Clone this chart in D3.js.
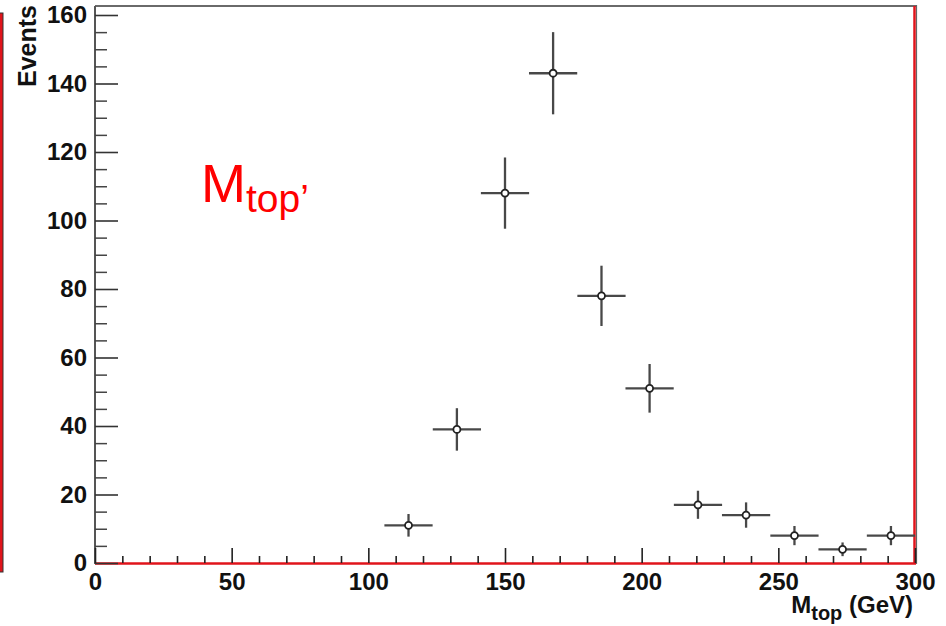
<!DOCTYPE html>
<html>
<head>
<meta charset="utf-8">
<script src="https://cdn.jsdelivr.net/npm/d3@7/dist/d3.min.js"></script>
<style>
  html, body { margin: 0; padding: 0; background: #fff; }
  svg { display: block; }
  .tick text { font-family: "Liberation Sans", Arial, Helvetica, sans-serif; font-weight: bold; }
</style>
</head>
<body>
<svg id="chart" width="946" height="626"></svg>
<script>
// Histogram of reconstructed top mass: 17 bins over 0–300 GeV
const binCenters = [114.7, 132.4, 150.0, 167.6, 185.3, 202.9, 220.6, 238.2, 255.9, 273.5, 291.2];
const binWidth = 300 / 17;
const events = [11, 39, 108, 143, 78, 51, 17, 14, 8, 4, 8];
const errors = [3.3, 6.2, 10.4, 12.0, 8.8, 7.1, 4.1, 3.7, 2.8, 2.0, 2.8];

const xMajorTicks = [0, 50, 100, 150, 200, 250, 300];
const xMinorTicks = [10, 20, 30, 40, 60, 70, 80, 90, 110, 120, 130, 140, 160, 170, 180, 190, 210, 220, 230, 240, 260, 270, 280, 290];
const yMajorTicks = [0, 20, 40, 60, 80, 100, 120, 140, 160];
const yMinorTicks = d3.range(5, 160, 5).filter(v => v % 20 !== 0);

const xTitle = { main: "M", sub: "top", rest: " (GeV)" };
const yTitle = "Events";
const note = { main: "M", sub: "top’" };

const svg = d3.select("#chart");
const font = '"Liberation Sans", Arial, Helvetica, sans-serif';

const x = d3.scaleLinear().domain([0, 300]).range([95, 915]);
const y = d3.scaleLinear().domain([0, 160]).range([563, 15]);

// neighbouring pad edge on the far left
svg.append("rect")
  .attr("x", -3).attr("y", 13).attr("width", 6).attr("height", 559)
  .attr("fill", "#e0141b").attr("stroke", "#333").attr("stroke-width", 1);

// frame: top in gray, right and bottom in red
svg.append("line")
  .attr("x1", x(0)).attr("x2", 917).attr("y1", 6).attr("y2", 6)
  .attr("stroke", "#6a6a6a").attr("stroke-width", 2);
svg.append("line")
  .attr("x1", 916.5).attr("x2", 916.5).attr("y1", 5).attr("y2", y(0) + 1)
  .attr("stroke", "#666").attr("stroke-width", 1.2);
svg.append("line")
  .attr("x1", 914.5).attr("x2", 914.5).attr("y1", 6).attr("y2", y(0) + 1)
  .attr("stroke", "#e0141b").attr("stroke-width", 2.5);
svg.append("line")
  .attr("x1", x(0)).attr("x2", 916).attr("y1", y(0) + 0.5).attr("y2", y(0) + 0.5)
  .attr("stroke", "#e0141b").attr("stroke-width", 2.5);

// y axis
const yAxis = svg.append("g").attr("transform", `translate(${x(0)},0)`)
  .call(d3.axisLeft(y).tickValues(yMajorTicks).tickSizeInner(-23).tickSizeOuter(0).tickPadding(8));
yAxis.select(".domain").attr("stroke", "#555").attr("stroke-width", 2).attr("d", `M0,6V${y(0) + 1}`);
yAxis.selectAll(".tick line").attr("stroke", "#333").attr("stroke-width", 1.6);
yAxis.selectAll(".tick text").attr("font-size", 24).attr("fill", "#111");

const yMinor = svg.append("g").attr("transform", `translate(${x(0)},0)`)
  .call(d3.axisLeft(y).tickValues(yMinorTicks).tickSizeInner(-12).tickSizeOuter(0).tickFormat(""));
yMinor.select(".domain").remove();
yMinor.selectAll(".tick line").attr("stroke", "#444").attr("stroke-width", 1.5);

// x axis
const xAxis = svg.append("g").attr("transform", `translate(0,${y(0)})`)
  .call(d3.axisBottom(x).tickValues(xMajorTicks).tickSizeInner(-15).tickSizeOuter(0).tickPadding(10));
xAxis.select(".domain").remove();
xAxis.selectAll(".tick line").attr("stroke", "#222").attr("stroke-width", 1.6);
xAxis.selectAll(".tick text").attr("font-size", 24).attr("fill", "#111");

const xMinor = svg.append("g").attr("transform", `translate(0,${y(0)})`)
  .call(d3.axisBottom(x).tickValues(xMinorTicks).tickSizeInner(-7).tickSizeOuter(0).tickFormat(""));
xMinor.select(".domain").remove();
xMinor.selectAll(".tick line").attr("stroke", "#222").attr("stroke-width", 1.6);

// axis titles
const xt = svg.append("text")
  .attr("x", 913).attr("y", 613).attr("text-anchor", "end")
  .attr("font-family", font).attr("font-weight", "bold").attr("font-size", 24).attr("fill", "#111");
xt.append("tspan").text(xTitle.main);
xt.append("tspan").attr("font-size", 20).attr("dy", 7).text(xTitle.sub);
xt.append("tspan").attr("dy", -7).text(xTitle.rest);

svg.append("text")
  .attr("transform", "translate(36,5) rotate(-90)")
  .attr("text-anchor", "end")
  .attr("font-family", font).attr("font-weight", "bold").attr("font-size", 25).attr("fill", "#111")
  .text(yTitle);

// data points with error bars
const pts = svg.append("g");
const data = binCenters.map((c, i) => ({ c, v: events[i], e: errors[i] }));

pts.selectAll("line.h").data(data).join("line")
  .attr("class", "h")
  .attr("x1", d => x(d.c - binWidth / 2)).attr("x2", d => x(d.c + binWidth / 2))
  .attr("y1", d => y(d.v)).attr("y2", d => y(d.v))
  .attr("stroke", "#484848").attr("stroke-width", 2.3);

pts.selectAll("line.v").data(data).join("line")
  .attr("class", "v")
  .attr("x1", d => x(d.c)).attr("x2", d => x(d.c))
  .attr("y1", d => y(d.v - d.e)).attr("y2", d => y(d.v + d.e))
  .attr("stroke", "#484848").attr("stroke-width", 2.3);

pts.selectAll("circle").data(data).join("circle")
  .attr("cx", d => x(d.c)).attr("cy", d => y(d.v)).attr("r", 3.5)
  .attr("fill", "#fff").attr("stroke", "#222").attr("stroke-width", 1.8);

// red annotation
const nt = svg.append("text")
  .attr("x", 201).attr("y", 202)
  .attr("font-family", font).attr("font-size", 54).attr("fill", "#ff0000");
nt.append("tspan").text(note.main);
nt.append("tspan").attr("font-size", 39).attr("dy", 10).text(note.sub);
</script>
</body>
</html>
